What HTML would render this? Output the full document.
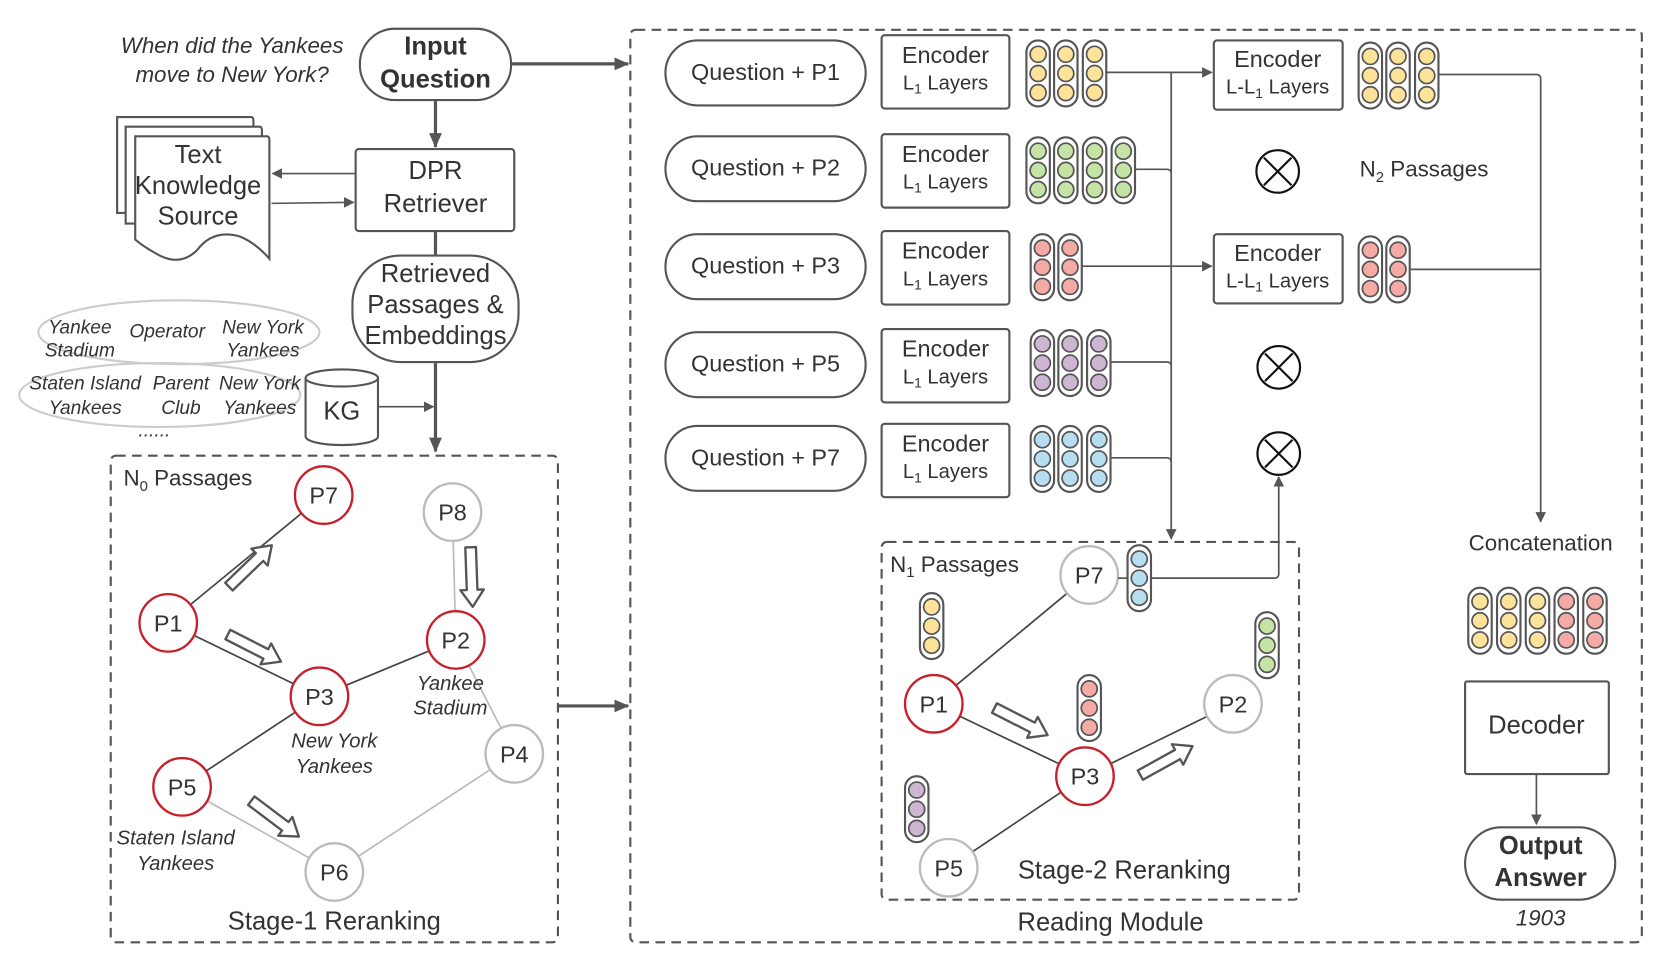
<!DOCTYPE html>
<html><head><meta charset="utf-8"><style>
html,body{margin:0;padding:0;background:#fff;}
svg{display:block;}
text{font-family:"Liberation Sans",sans-serif;fill:#333;}
.it{font-style:italic;}
</style></head><body>
<svg width="1661" height="977" viewBox="0 0 1560 917.6" xmlns="http://www.w3.org/2000/svg">
<defs>
<marker id="ah" markerWidth="10" markerHeight="10" refX="9" refY="5" orient="auto" markerUnits="userSpaceOnUse"><path d="M0,0 L10,5 L0,10 Z" fill="#555"/></marker>
<marker id="ahb" markerWidth="14" markerHeight="12" refX="13" refY="6" orient="auto" markerUnits="userSpaceOnUse"><path d="M0,0 L14,6 L0,12 Z" fill="#555"/></marker>
<path id="harrow" d="M0,-5 L40,-5 L40,-11 L56,0 L40,11 L40,5 L0,5 Z" fill="#fff" stroke="#555" stroke-width="2.2" stroke-linejoin="round"/>
<g id="vy"><rect x="-11" y="0" width="22" height="62" rx="11" fill="#fff" stroke="#555" stroke-width="2"/><circle cy="13" r="7.5" fill="#fde39a" stroke="#555" stroke-width="1.6"/><circle cy="31" r="7.5" fill="#fde39a" stroke="#555" stroke-width="1.6"/><circle cy="49" r="7.5" fill="#fde39a" stroke="#555" stroke-width="1.6"/></g>
<g id="vg"><rect x="-11" y="0" width="22" height="62" rx="11" fill="#fff" stroke="#555" stroke-width="2"/><circle cy="13" r="7.5" fill="#c5e3a5" stroke="#555" stroke-width="1.6"/><circle cy="31" r="7.5" fill="#c5e3a5" stroke="#555" stroke-width="1.6"/><circle cy="49" r="7.5" fill="#c5e3a5" stroke="#555" stroke-width="1.6"/></g>
<g id="vp"><rect x="-11" y="0" width="22" height="62" rx="11" fill="#fff" stroke="#555" stroke-width="2"/><circle cy="13" r="7.5" fill="#f5aaa5" stroke="#555" stroke-width="1.6"/><circle cy="31" r="7.5" fill="#f5aaa5" stroke="#555" stroke-width="1.6"/><circle cy="49" r="7.5" fill="#f5aaa5" stroke="#555" stroke-width="1.6"/></g>
<g id="vu"><rect x="-11" y="0" width="22" height="62" rx="11" fill="#fff" stroke="#555" stroke-width="2"/><circle cy="13" r="7.5" fill="#cdb6d2" stroke="#555" stroke-width="1.6"/><circle cy="31" r="7.5" fill="#cdb6d2" stroke="#555" stroke-width="1.6"/><circle cy="49" r="7.5" fill="#cdb6d2" stroke="#555" stroke-width="1.6"/></g>
<g id="vb"><rect x="-11" y="0" width="22" height="62" rx="11" fill="#fff" stroke="#555" stroke-width="2"/><circle cy="13" r="7.5" fill="#b7ddf0" stroke="#555" stroke-width="1.6"/><circle cy="31" r="7.5" fill="#b7ddf0" stroke="#555" stroke-width="1.6"/><circle cy="49" r="7.5" fill="#b7ddf0" stroke="#555" stroke-width="1.6"/></g>
</defs>

<!-- Left top -->
<text x="218" y="50" font-size="21" text-anchor="middle" class="it">When did the Yankees</text>
<text x="218" y="77" font-size="21" text-anchor="middle" class="it">move to New York?</text>
<rect x="338" y="27" width="142" height="67" rx="33" fill="#fff" stroke="#555" stroke-width="2"/>
<text x="409" y="51" font-size="24" font-weight="bold" text-anchor="middle">Input</text>
<text x="409" y="82" font-size="24" font-weight="bold" text-anchor="middle">Question</text>
<line x1="480" y1="60" x2="590" y2="60" stroke="#555" stroke-width="3" marker-end="url(#ahb)"/>
<line x1="409" y1="94" x2="409" y2="138" stroke="#555" stroke-width="3" marker-end="url(#ahb)"/>
<rect x="334" y="140" width="149" height="77" rx="3" fill="#fff" stroke="#555" stroke-width="2"/>
<text x="409" y="168" font-size="24" text-anchor="middle">DPR</text>
<text x="409" y="199" font-size="24" text-anchor="middle">Retriever</text>
<!-- docs -->
<path d="M110,110 L236,110 Q238,110 238,114 L238,200 L110,200 Z" fill="#fff" stroke="#555" stroke-width="2"/>
<path d="M118,119 L244,119 Q246,119 246,123 L246,210 L118,210 Z" fill="#fff" stroke="#555" stroke-width="2"/>
<path d="M127,128 L251,128 Q253,128 253,132 L253,243 Q240,228 225,222 Q200,215 185,235 Q170,250 150,240 Q135,232 127,225 Z" fill="#fff" stroke="#555" stroke-width="2"/>
<text x="186" y="153" font-size="24" text-anchor="middle">Text</text>
<text x="186" y="182" font-size="24" text-anchor="middle">Knowledge</text>
<text x="186" y="211" font-size="24" text-anchor="middle">Source</text>
<line x1="334" y1="163" x2="256" y2="163" stroke="#555" stroke-width="1.5" marker-end="url(#ah)"/>
<line x1="255" y1="191" x2="332" y2="190" stroke="#555" stroke-width="1.5" marker-end="url(#ah)"/>
<line x1="409" y1="217" x2="409" y2="240" stroke="#555" stroke-width="3"/>
<rect x="331" y="240" width="156" height="100" rx="45" fill="#fff" stroke="#555" stroke-width="2"/>
<text x="409" y="265" font-size="24" text-anchor="middle">Retrieved</text>
<text x="409" y="294" font-size="24" text-anchor="middle">Passages &amp;</text>
<text x="409" y="323" font-size="24" text-anchor="middle">Embeddings</text>
<line x1="409" y1="340" x2="409" y2="424" stroke="#555" stroke-width="3" marker-end="url(#ahb)"/>
<!-- KG -->
<ellipse cx="168" cy="312" rx="132" ry="30" fill="none" stroke="#ccc" stroke-width="2"/>
<ellipse cx="150" cy="371" rx="132" ry="30" fill="none" stroke="#ccc" stroke-width="2"/>
<g font-size="18" class="it" text-anchor="middle">
<text x="75" y="313" class="it">Yankee</text><text x="75" y="335" class="it">Stadium</text>
<text x="157" y="317" class="it">Operator</text>
<text x="247" y="313" class="it">New York</text><text x="247" y="335" class="it">Yankees</text>
<text x="80" y="366" class="it">Staten Island</text><text x="80" y="389" class="it">Yankees</text>
<text x="170" y="366" class="it">Parent</text><text x="170" y="389" class="it">Club</text>
<text x="244" y="366" class="it">New York</text><text x="244" y="389" class="it">Yankees</text>
<text x="145" y="410" class="it">......</text>
</g>
<path d="M287,355 L287,410 A34,8 0 0 0 355,410 L355,355" fill="#fff" stroke="#555" stroke-width="2"/>
<ellipse cx="321" cy="355" rx="34" ry="8" fill="#fff" stroke="#555" stroke-width="2"/>
<text x="321" y="394" font-size="24" text-anchor="middle">KG</text>
<line x1="355" y1="382" x2="407" y2="382" stroke="#555" stroke-width="1.5" marker-end="url(#ah)"/>

<!-- Stage-1 box -->
<rect x="104" y="428" width="420" height="457" rx="5" fill="none" stroke="#555" stroke-width="2" stroke-dasharray="9,6"/>
<text x="116" y="456" font-size="21">N<tspan font-size="14" dy="5">0</tspan><tspan dy="-5"> Passages</tspan></text>
<g stroke-width="1.6">
<line x1="158" y1="585" x2="304" y2="465" stroke="#444"/>
<line x1="158" y1="585" x2="300" y2="654" stroke="#444"/>
<line x1="300" y1="654" x2="428" y2="601" stroke="#444"/>
<line x1="300" y1="654" x2="171" y2="739" stroke="#444"/>
<line x1="425" y1="481" x2="428" y2="601" stroke="#bbb"/>
<line x1="428" y1="601" x2="483" y2="708" stroke="#bbb"/>
<line x1="171" y1="739" x2="314" y2="819" stroke="#bbb"/>
<line x1="314" y1="819" x2="483" y2="708" stroke="#bbb"/>
</g>
<g fill="#fff" stroke-width="2.2">
<circle cx="304" cy="465" r="27" stroke="#c8202a"/>
<circle cx="425" cy="481" r="27" stroke="#bbb"/>
<circle cx="158" cy="585" r="27" stroke="#c8202a"/>
<circle cx="428" cy="601" r="27" stroke="#c8202a"/>
<circle cx="300" cy="654" r="27" stroke="#c8202a"/>
<circle cx="483" cy="708" r="27" stroke="#bbb"/>
<circle cx="171" cy="739" r="27" stroke="#c8202a"/>
<circle cx="314" cy="819" r="27" stroke="#bbb"/>
</g>
<g font-size="22" text-anchor="middle">
<text x="304" y="473">P7</text><text x="425" y="489">P8</text><text x="158" y="593">P1</text><text x="428" y="609">P2</text>
<text x="300" y="662">P3</text><text x="483" y="716">P4</text><text x="171" y="747">P5</text><text x="314" y="827">P6</text>
</g>
<g font-size="19" text-anchor="middle">
<text x="423" y="648" class="it">Yankee</text><text x="423" y="671" class="it">Stadium</text>
<text x="314" y="702" class="it">New York</text><text x="314" y="726" class="it">Yankees</text>
<text x="165" y="793" class="it">Staten Island</text><text x="165" y="817" class="it">Yankees</text>
</g>
<use href="#harrow" transform="translate(215,551) rotate(-44)"/>
<use href="#harrow" transform="translate(214,596) rotate(27)"/>
<use href="#harrow" transform="translate(442,514) rotate(88)"/>
<use href="#harrow" transform="translate(236,752) rotate(37)"/>
<text x="314" y="873" font-size="24" text-anchor="middle">Stage-1 Reranking</text>
<line x1="525" y1="663" x2="590" y2="663" stroke="#555" stroke-width="3" marker-end="url(#ahb)"/>

<!-- Reading module -->
<rect x="592" y="28" width="950" height="857" rx="5" fill="none" stroke="#555" stroke-width="2" stroke-dasharray="9,6"/>
<text x="1043" y="874" font-size="24" text-anchor="middle">Reading Module</text>

<g font-size="22" text-anchor="middle">
<rect x="625" y="38" width="188" height="61" rx="30" fill="#fff" stroke="#555" stroke-width="2"/><text x="719" y="75">Question + P1</text>
<rect x="625" y="128" width="188" height="61" rx="30" fill="#fff" stroke="#555" stroke-width="2"/><text x="719" y="165">Question + P2</text>
<rect x="625" y="220" width="188" height="61" rx="30" fill="#fff" stroke="#555" stroke-width="2"/><text x="719" y="257">Question + P3</text>
<rect x="625" y="312" width="188" height="61" rx="30" fill="#fff" stroke="#555" stroke-width="2"/><text x="719" y="349">Question + P5</text>
<rect x="625" y="400" width="188" height="61" rx="30" fill="#fff" stroke="#555" stroke-width="2"/><text x="719" y="437">Question + P7</text>
</g>
<g text-anchor="middle">
<g transform="translate(0,0)"><rect x="828" y="33" width="120" height="69" rx="3" fill="#fff" stroke="#555" stroke-width="2"/><text x="888" y="59" font-size="22">Encoder</text><text x="888" y="84" font-size="19">L<tspan font-size="13" dy="4">1</tspan><tspan dy="-4"> Layers</tspan></text></g>
<g transform="translate(0,93)"><rect x="828" y="33" width="120" height="69" rx="3" fill="#fff" stroke="#555" stroke-width="2"/><text x="888" y="59" font-size="22">Encoder</text><text x="888" y="84" font-size="19">L<tspan font-size="13" dy="4">1</tspan><tspan dy="-4"> Layers</tspan></text></g>
<g transform="translate(0,184)"><rect x="828" y="33" width="120" height="69" rx="3" fill="#fff" stroke="#555" stroke-width="2"/><text x="888" y="59" font-size="22">Encoder</text><text x="888" y="84" font-size="19">L<tspan font-size="13" dy="4">1</tspan><tspan dy="-4"> Layers</tspan></text></g>
<g transform="translate(0,276)"><rect x="828" y="33" width="120" height="69" rx="3" fill="#fff" stroke="#555" stroke-width="2"/><text x="888" y="59" font-size="22">Encoder</text><text x="888" y="84" font-size="19">L<tspan font-size="13" dy="4">1</tspan><tspan dy="-4"> Layers</tspan></text></g>
<g transform="translate(0,365)"><rect x="828" y="33" width="120" height="69" rx="3" fill="#fff" stroke="#555" stroke-width="2"/><text x="888" y="59" font-size="22">Encoder</text><text x="888" y="84" font-size="19">L<tspan font-size="13" dy="4">1</tspan><tspan dy="-4"> Layers</tspan></text></g>
<g><rect x="1140" y="38" width="121" height="65" rx="3" fill="#fff" stroke="#555" stroke-width="2"/><text x="1200" y="63" font-size="22">Encoder</text><text x="1200" y="88" font-size="19">L-L<tspan font-size="13" dy="4">1</tspan><tspan dy="-4"> Layers</tspan></text></g>
<g><rect x="1140" y="220" width="121" height="65" rx="3" fill="#fff" stroke="#555" stroke-width="2"/><text x="1200" y="245" font-size="22">Encoder</text><text x="1200" y="270" font-size="19">L-L<tspan font-size="13" dy="4">1</tspan><tspan dy="-4"> Layers</tspan></text></g>
</g>

<!-- connectors -->
<g stroke="#555" stroke-width="1.6" fill="none">
<line x1="1039" y1="68" x2="1138" y2="68" marker-end="url(#ah)"/>
<line x1="1100" y1="68" x2="1100" y2="506" marker-end="url(#ah)"/>
<path d="M1066,159 L1096,159 Q1100,159 1100,163"/>
<line x1="1016" y1="250" x2="1138" y2="250" marker-end="url(#ah)"/>
<path d="M1043,340 L1096,340 Q1100,340 1100,344"/>
<path d="M1043,430 L1096,430 Q1100,430 1100,434"/>
<path d="M1351,70 L1443,70 Q1447,70 1447,74 L1447,490" marker-end="url(#ah)"/>
<path d="M1325,253 L1447,253"/>
<path d="M1081,543 L1197,543 Q1201,543 1201,539 L1201,448" marker-end="url(#ah)"/>
</g>

<!-- vectors -->
<use href="#vy" x="975" y="38"/><use href="#vy" x="1001" y="38"/><use href="#vy" x="1028" y="38"/>
<use href="#vg" x="975" y="129"/><use href="#vg" x="1001" y="129"/><use href="#vg" x="1028" y="129"/><use href="#vg" x="1055" y="129"/>
<use href="#vp" x="979" y="220"/><use href="#vp" x="1005" y="220"/>
<use href="#vu" x="979" y="310"/><use href="#vu" x="1005" y="310"/><use href="#vu" x="1032" y="310"/>
<use href="#vb" x="979" y="400"/><use href="#vb" x="1005" y="400"/><use href="#vb" x="1032" y="400"/>
<use href="#vy" x="1287" y="40"/><use href="#vy" x="1313" y="40"/><use href="#vy" x="1340" y="40"/>
<use href="#vp" x="1287" y="222"/><use href="#vp" x="1313" y="222"/>

<!-- otimes -->
<g stroke="#111" stroke-width="2" fill="#fff">
<circle cx="1200" cy="161" r="20"/><path d="M1187,148 L1213,174 M1213,148 L1187,174"/>
<circle cx="1201" cy="345" r="20"/><path d="M1188,332 L1214,358 M1214,332 L1188,358"/>
<circle cx="1201" cy="426" r="20"/><path d="M1188,413 L1214,439 M1214,413 L1188,439"/>
</g>
<text x="1277" y="166" font-size="21">N<tspan font-size="14" dy="5">2</tspan><tspan dy="-5"> Passages</tspan></text>

<!-- right column -->
<text x="1447" y="517" font-size="21" text-anchor="middle">Concatenation</text>
<use href="#vy" x="1390" y="552"/><use href="#vy" x="1417" y="552"/><use href="#vy" x="1444" y="552"/><use href="#vp" x="1471" y="552"/><use href="#vp" x="1498" y="552"/>
<rect x="1376" y="640" width="135" height="87" rx="2" fill="#fff" stroke="#555" stroke-width="2"/>
<text x="1443" y="689" font-size="24" text-anchor="middle">Decoder</text>
<line x1="1443" y1="727" x2="1443" y2="774" stroke="#555" stroke-width="1.6" marker-end="url(#ah)"/>
<rect x="1376" y="777" width="141" height="68" rx="34" fill="#fff" stroke="#555" stroke-width="2"/>
<text x="1447" y="802" font-size="24" font-weight="bold" text-anchor="middle">Output</text>
<text x="1447" y="832" font-size="24" font-weight="bold" text-anchor="middle">Answer</text>
<text x="1447" y="869" font-size="21" class="it" text-anchor="middle">1903</text>

<!-- Stage-2 box -->
<rect x="828" y="509" width="392" height="336" rx="5" fill="none" stroke="#555" stroke-width="2" stroke-dasharray="9,6"/>
<text x="836" y="537" font-size="21">N<tspan font-size="14" dy="5">1</tspan><tspan dy="-5"> Passages</tspan></text>
<g stroke-width="1.6">
<line x1="877" y1="661" x2="1023" y2="540" stroke="#444"/>
<line x1="877" y1="661" x2="1019" y2="729" stroke="#444"/>
<line x1="1019" y1="729" x2="1158" y2="661" stroke="#444"/>
<line x1="1019" y1="729" x2="891" y2="815" stroke="#444"/>
</g>
<g fill="#fff" stroke-width="2.2">
<circle cx="1023" cy="540" r="27" stroke="#bbb"/>
<circle cx="877" cy="661" r="27" stroke="#c8202a"/>
<circle cx="1158" cy="661" r="27" stroke="#bbb"/>
<circle cx="1019" cy="729" r="27" stroke="#c8202a"/>
<circle cx="891" cy="815" r="27" stroke="#bbb"/>
</g>
<g font-size="22" text-anchor="middle">
<text x="1023" y="548">P7</text><text x="877" y="669">P1</text><text x="1158" y="669">P2</text><text x="1019" y="737">P3</text><text x="891" y="823">P5</text>
</g>
<line x1="1050" y1="543" x2="1062" y2="543" stroke="#555" stroke-width="1.6"/>
<use href="#vb" x="1070" y="512"/>
<use href="#vy" x="875" y="557"/>
<use href="#vg" x="1190" y="575"/>
<use href="#vp" x="1023" y="634"/>
<use href="#vu" x="861" y="729"/>
<use href="#harrow" transform="translate(934,665) rotate(27)"/>
<use href="#harrow" transform="translate(1071,728) rotate(-29)"/>
<text x="1056" y="825" font-size="24" text-anchor="middle">Stage-2 Reranking</text>
</svg>
</body></html>
